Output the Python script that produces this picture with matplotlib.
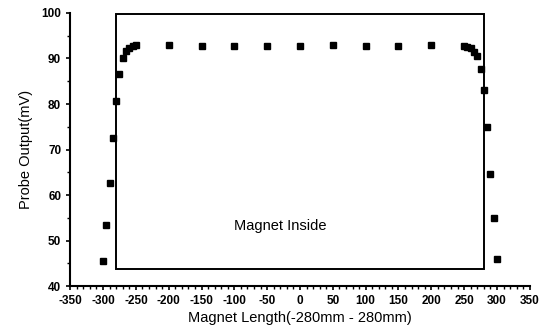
import numpy as np
import matplotlib
matplotlib.use('Agg')
import matplotlib.pyplot as plt
from matplotlib.patches import Rectangle
from matplotlib.ticker import MultipleLocator

plt.rcParams['font.family'] = ['Liberation Sans', 'DejaVu Sans']
plt.rcParams['axes.unicode_minus'] = False

# probe position (mm) and probe output (mV)
position = [-300, -295, -290, -285, -280, -275, -270, -265, -260, -255, -250,
            -200, -150, -100, -50, 0, 50, 100, 150, 200,
            250, 255, 260, 265, 270, 275, 280, 285, 290, 295, 300]
output = [45.5, 53.5, 62.7, 72.6, 80.6, 86.6, 90.2, 91.6, 92.3, 92.7, 93.0,
          93.0, 92.7, 92.7, 92.8, 92.8, 92.9, 92.8, 92.8, 92.9,
          92.8, 92.6, 92.2, 91.4, 90.6, 87.8, 83.0, 75.0, 64.7, 55.0, 46.0]

magnet_start, magnet_end = -280, 280
box_bottom, box_top = 43.8, 99.7
label_text = "Magnet Inside"

fig = plt.figure(figsize=(5.53, 3.33), dpi=100)
ax = fig.add_axes([0.127, 0.141, 0.831, 0.82])

ax.plot(position, output, 's', color='black', markersize=4.3, zorder=3)

# box marking the magnet
ax.add_patch(Rectangle((magnet_start, box_bottom), magnet_end - magnet_start,
                       box_top - box_bottom, fill=False, edgecolor='black',
                       linewidth=1.4, zorder=2))
ax.text(-30, 53.3, label_text, ha='center', va='center', fontsize=10.5)

ax.set_xlim(-350, 350)
ax.set_ylim(40, 100)
ax.xaxis.set_major_locator(MultipleLocator(50))
ax.xaxis.set_minor_locator(MultipleLocator(10))
ax.yaxis.set_major_locator(MultipleLocator(10))
ax.yaxis.set_minor_locator(MultipleLocator(5))

for side in ['top', 'right']:
    ax.spines[side].set_visible(False)
for side in ['left', 'bottom']:
    ax.spines[side].set_linewidth(1.5)

ax.tick_params(which='major', direction='out', length=3, width=1.2, labelsize=8.5)
ax.tick_params(which='minor', direction='out', length=2, width=1.0)
for lbl in ax.get_xticklabels() + ax.get_yticklabels():
    lbl.set_fontweight('bold')

ax.set_xlabel('Magnet Length(-280mm - 280mm)', fontsize=10.5, labelpad=3)
ax.set_ylabel('Probe Output(mV)', fontsize=10.5, labelpad=6)

fig.savefig('out.png', dpi=100)
